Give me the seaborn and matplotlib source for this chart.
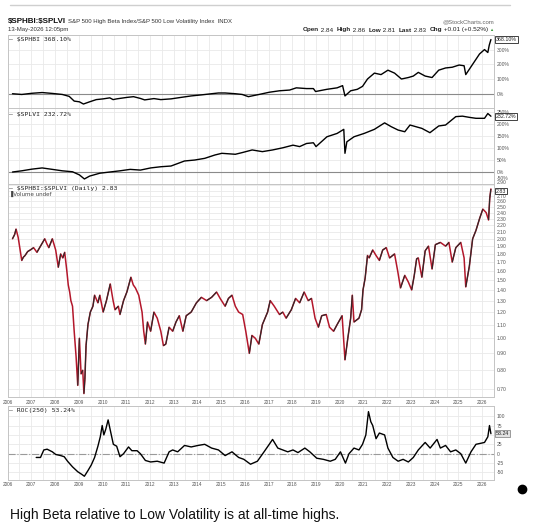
import numpy as np
import matplotlib
matplotlib.use('Agg')
import matplotlib.pyplot as plt
import seaborn as sns
from matplotlib.collections import LineCollection
from matplotlib.lines import Line2D
import matplotlib.transforms as mtransforms

sns.set_theme(style='white')
plt.rcParams['font.family'] = ['Liberation Sans', 'DejaVu Sans']

# ---- dados (anos decimais) ----
anos_hb = [2006.21, 2006.60, 2007.03, 2007.46, 2007.89, 2008.31, 2008.60, 2008.81, 2009.03, 2009.20,
           2009.46, 2009.74, 2010.03, 2010.31, 2010.45, 2010.60, 2011.03, 2011.31, 2011.60, 2011.78,
           2012.17, 2012.46, 2012.89, 2013.31, 2013.74, 2014.17, 2014.60, 2014.89, 2015.17, 2015.60,
           2015.89, 2016.15, 2016.60, 2017.03, 2017.46, 2017.89, 2018.17, 2018.60, 2018.89, 2018.98,
           2019.46, 2019.89, 2020.12, 2020.22, 2020.46, 2020.74, 2020.96, 2021.17, 2021.46, 2021.74,
           2022.03, 2022.31, 2022.60, 2022.89, 2023.10, 2023.31, 2023.60, 2023.89, 2024.17, 2024.46,
           2024.74, 2025.03, 2025.24, 2025.31, 2025.60, 2025.89, 2026.10, 2026.24, 2026.30, 2026.37]
sphbi = [0, -5, 3, 8, 2, -5, -18, -50, -55, -70,
         -55, -40, -35, -28, -40, -35, -25, -20, -32, -42,
         -33, -40, -35, -25, -15, -8, 0, 5, 5, 0,
         -5, -20, -5, 10, 20, 25, 40, 35, 35, 15,
         30, 40, 55, -15, 20, 30, 50, 100, 140, 130,
         160, 140, 100, 110, 120, 145, 120, 110, 160, 175,
         180, 195, 190, 130, 200, 270, 300, 280, 330, 368.10]

anos_lv = [2006.21, 2006.60, 2007.03, 2007.46, 2007.89, 2008.31, 2008.74, 2009.03, 2009.24, 2009.46,
           2009.89, 2010.31, 2010.74, 2011.17, 2011.60, 2012.03, 2012.46, 2012.89, 2013.46, 2013.89,
           2014.31, 2014.74, 2015.03, 2015.60, 2015.89, 2016.31, 2016.74, 2017.17, 2017.60, 2018.03,
           2018.31, 2018.60, 2018.89, 2019.00, 2019.46, 2019.89, 2020.17, 2020.22, 2020.30, 2020.60,
           2021.03, 2021.46, 2021.89, 2022.17, 2022.46, 2022.74, 2022.96, 2023.46, 2023.80, 2024.17,
           2024.46, 2024.89, 2025.17, 2025.46, 2025.74, 2026.10, 2026.24, 2026.37]
splvi = [0, 5, 12, 17, 11, 5, 1, -12, -29, -17,
         -5, 0, 5, 11, 8, 17, 22, 25, 46, 50,
         57, 71, 78, 74, 81, 92, 85, 92, 101, 112,
         106, 119, 122, 106, 147, 161, 178, 78, 126, 147,
         161, 178, 205, 189, 175, 168, 196, 182, 164, 192,
         196, 231, 233, 228, 224, 224, 244, 232.72]

anos_ratio = [2006.21, 2006.30, 2006.36, 2006.45, 2006.53, 2006.60, 2006.67, 2006.74, 2006.85, 2006.96,
              2007.10, 2007.24, 2007.39, 2007.57, 2007.66, 2007.74, 2007.89, 2008.03, 2008.14, 2008.24,
              2008.33, 2008.41, 2008.50, 2008.56, 2008.62, 2008.67, 2008.74, 2008.81, 2008.89, 2008.96,
              2009.03, 2009.10, 2009.17, 2009.22, 2009.26, 2009.31, 2009.39, 2009.49, 2009.60, 2009.67,
              2009.81, 2009.89, 2010.03, 2010.17, 2010.33, 2010.45, 2010.53, 2010.67, 2010.74, 2010.89,
              2011.03, 2011.20, 2011.30, 2011.39, 2011.53, 2011.67, 2011.74, 2011.81, 2011.90, 2012.03,
              2012.17, 2012.31, 2012.46, 2012.57, 2012.67, 2012.81, 2012.96, 2013.10, 2013.24, 2013.39,
              2013.53, 2013.74, 2013.96, 2014.17, 2014.39, 2014.60, 2014.81, 2014.96, 2015.17, 2015.31,
              2015.46, 2015.60, 2015.74, 2015.91, 2016.04, 2016.19, 2016.30, 2016.44, 2016.59, 2016.74,
              2016.96, 2017.07, 2017.24, 2017.46, 2017.60, 2017.74, 2017.96, 2018.14, 2018.31, 2018.50,
              2018.67, 2018.81, 2018.96, 2019.10, 2019.24, 2019.43, 2019.57, 2019.74, 2019.89, 2020.10,
              2020.22, 2020.34, 2020.46, 2020.53, 2020.60, 2020.81, 2020.92, 2020.98, 2021.07, 2021.17,
              2021.24, 2021.39, 2021.53, 2021.67, 2021.81, 2021.96, 2022.10, 2022.31, 2022.44, 2022.56,
              2022.74, 2022.89, 2023.03, 2023.14, 2023.24, 2023.31, 2023.46, 2023.60, 2023.74, 2023.89,
              2024.03, 2024.24, 2024.46, 2024.60, 2024.74, 2024.89, 2025.10, 2025.24, 2025.31, 2025.46,
              2025.60, 2025.74, 2025.89, 2026.03, 2026.17, 2026.27, 2026.32, 2026.37]
ratio = [2.00, 2.06, 2.14, 2.02, 1.85, 1.72, 1.76, 1.78, 1.83, 1.85,
         1.88, 1.82, 1.90, 2.00, 1.93, 1.88, 2.00, 1.85, 1.64, 1.80,
         1.75, 1.82, 1.60, 1.45, 1.38, 1.30, 1.25, 1.05, 0.88, 0.72,
         1.00, 0.78, 0.80, 0.68, 0.75, 0.95, 1.10, 1.20, 1.25, 1.35,
         1.28, 1.35, 1.20, 1.30, 1.46, 1.30, 1.22, 1.25, 1.18, 1.30,
         1.38, 1.53, 1.45, 1.42, 1.35, 1.20, 1.05, 0.96, 1.12, 1.05,
         1.20, 1.15, 1.05, 0.95, 0.96, 1.08, 1.05, 1.12, 1.17, 1.05,
         1.17, 1.20, 1.28, 1.33, 1.30, 1.33, 1.38, 1.32, 1.25, 1.32,
         1.35, 1.25, 1.20, 1.18, 1.05, 0.90, 1.02, 1.00, 0.96, 1.10,
         1.20, 1.30, 1.25, 1.18, 1.20, 1.15, 1.22, 1.32, 1.28, 1.38,
         1.30, 1.32, 1.15, 1.08, 1.17, 1.18, 1.08, 1.05, 1.10, 1.17,
         0.86, 1.00, 1.15, 1.35, 1.12, 1.15, 1.22, 1.40, 1.52, 1.78,
         1.75, 1.85, 1.78, 1.72, 1.85, 1.88, 1.75, 1.80, 1.60, 1.42,
         1.55, 1.48, 1.40, 1.55, 1.74, 1.75, 1.53, 1.84, 1.90, 1.62,
         1.92, 1.95, 1.90, 1.95, 1.70, 1.88, 1.95, 1.75, 1.43, 1.65,
         2.00, 2.12, 2.30, 2.46, 2.40, 2.28, 2.65, 2.83]

anos_roc = [2007.21, 2007.39, 2007.53, 2007.67, 2007.89, 2008.03, 2008.24, 2008.39, 2008.53, 2008.74,
            2008.96, 2009.13, 2009.24, 2009.39, 2009.53, 2009.67, 2009.81, 2009.91, 2009.99, 2010.06,
            2010.14, 2010.24, 2010.34, 2010.46, 2010.60, 2010.74, 2010.89, 2011.10, 2011.24, 2011.46,
            2011.60, 2011.81, 2012.03, 2012.31, 2012.60, 2012.81, 2012.96, 2013.17, 2013.46, 2013.74,
            2014.03, 2014.31, 2014.60, 2014.89, 2015.17, 2015.46, 2015.74, 2015.96, 2016.24, 2016.53,
            2016.81, 2017.03, 2017.17, 2017.39, 2017.60, 2017.81, 2018.03, 2018.24, 2018.53, 2018.74,
            2019.03, 2019.31, 2019.60, 2019.81, 2020.03, 2020.24, 2020.39, 2020.60, 2020.81, 2020.96,
            2021.10, 2021.21, 2021.31, 2021.39, 2021.53, 2021.67, 2021.89, 2022.03, 2022.24, 2022.46,
            2022.67, 2022.89, 2023.10, 2023.31, 2023.60, 2023.81, 2024.10, 2024.24, 2024.46, 2024.67,
            2024.89, 2025.10, 2025.31, 2025.53, 2025.74, 2025.96, 2026.10, 2026.24, 2026.31, 2026.37]
roc = [-10, -10, 10, 12, 5, -2, -5, -8, -20, -35,
       -48, -55, -60, -45, -30, -10, 20, 45, 75, 50,
       65, 90, 60, 25, 20, -8, 0, 18, 8, 8,
       0, -18, -22, -20, -25, 5, 10, 5, 22, 18,
       22, 25, 15, 10, -5, 5, -10, -15, -28, -20,
       5, 25, 38, 15, 10, 5, 10, 3, 15, 5,
       -12, -15, -20, -15, 5, -25, 0, 15, 10, 25,
       50, 112, 85, 75, 40, 55, 50, 15, -10, -20,
       -15, -22, -10, 10, 30, 15, 38, 15, 22, 5,
       10, 0, -25, 5, 25, 28, 30, 45, 75, 53.24]

anos_eixo = list(range(2006, 2027))

# ---- figura ----
W, H = 533, 530
fig = plt.figure(figsize=(W / 100, H / 100), dpi=100)
fig.patch.set_facecolor('white')


def caixa(y_top, y_bot):
    # converte pixels da imagem em coordenadas da figura
    return [7.5 / W, 1 - y_bot / H, (494 - 7.5) / W, (y_bot - y_top) / H]


ax1 = fig.add_axes(caixa(35, 108))
ax2 = fig.add_axes(caixa(108, 184))
ax3 = fig.add_axes(caixa(184, 397))
ax4 = fig.add_axes(caixa(406, 480))

XMIN, XMAX = 2006.06, 2026.40
grade = '#e9e9e9'
borda = '#c4c4c4'
cor_tick = '#555555'

for ax in (ax1, ax2, ax3, ax4):
    ax.set_xlim(XMIN, XMAX)
    ax.set_xticks(anos_eixo)
    ax.set_xticks([a + 0.5 for a in anos_eixo], minor=True)
    ax.xaxis.grid(True, which='both', color=grade, lw=0.6)
    ax.yaxis.grid(True, color=grade, lw=0.6)
    ax.tick_params(axis='x', which='both', length=0, labelbottom=False)
    ax.yaxis.tick_right()
    ax.tick_params(axis='y', which='both', length=0, labelsize=3.6, labelcolor=cor_tick, pad=2)
    for s in ax.spines.values():
        s.set_color(borda)
        s.set_linewidth(0.7)
    ax.set_xlabel('')
    ax.set_ylabel('')

# painel 1 - SPHBI
sns.lineplot(x=anos_hb, y=sphbi, ax=ax1, color='black', lw=1.0)
ax1.axhline(0, color='#8a8a8a', lw=0.8, zorder=1)
ax1.set_ylim(-97, 399)
ax1.set_yticks([0, 100, 200, 300])
ax1.set_yticklabels(['0%', '100%', '200%', '300%'])

# painel 2 - SPLVI (o rotulo -50% fica um pouco acima da borda)
sns.lineplot(x=anos_lv, y=splvi, ax=ax2, color='black', lw=1.0)
ax2.axhline(0, color='#8a8a8a', lw=0.8, zorder=1)
ax2.set_ylim(-50, 267)
ax2.set_yticks([-50, 0, 50, 100, 150, 200, 250])
ax2.set_yticklabels(['', '0%', '50%', '100%', '150%', '200%', '250%'])
tr_m50 = mtransforms.offset_copy(ax2.get_yaxis_transform(), fig=fig, x=2.8, y=5.5, units='dots')
ax2.text(1.0, -50, '-50%', transform=tr_m50, ha='left', va='center', fontsize=3.6,
         color=cor_tick, clip_on=False)

# painel 3 - razao, escala log, vermelho quando cai e escuro quando sobe
ax3.set_yscale('log')
sns.lineplot(x=anos_ratio, y=ratio, ax=ax3, color='#b3172b', lw=1.1)
pts = np.column_stack([anos_ratio, ratio])
segs = np.stack([pts[:-1], pts[1:]], axis=1)
sobe = np.diff(ratio) > 0
ax3.add_collection(LineCollection(segs[sobe], colors='#2a2a2a', linewidths=0.8, zorder=3))
ax3.set_ylim(0.664, 2.93)
ticks3 = [0.7, 0.8, 0.9, 1.0, 1.1, 1.2, 1.3, 1.4, 1.5, 1.6, 1.7, 1.8, 1.9, 2.0,
          2.1, 2.2, 2.3, 2.4, 2.5, 2.6, 2.7, 2.9]
ax3.yaxis.set_minor_locator(matplotlib.ticker.NullLocator())
ax3.set_yticks(ticks3)
ax3.set_yticklabels(['%.2f' % t for t in ticks3])
ax3.get_yticklabels()[-1].set_verticalalignment('bottom')
ax3.yaxis.grid(True, color=grade, lw=0.6)
ax3.axhline(2.8, color=grade, lw=0.6, zorder=0)

# painel 4 - ROC(250)
sns.lineplot(x=anos_roc, y=roc, ax=ax4, color='black', lw=1.0)
ax4.axhline(0, color='#9a9a9a', lw=0.8, ls='-.', zorder=1)
ax4.set_ylim(-70, 127)
ax4.set_yticks([-50, -25, 0, 25, 75, 100])
ax4.set_yticklabels(['-50', '-25', '0', '25', '75', '100'])
ax4.axhline(50, color=grade, lw=0.6, zorder=0)

# rotulos dos anos abaixo dos paineis 3 e 4
for ax, dy in ((ax3, -5), (ax4, -5)):
    tr = mtransforms.offset_copy(ax.get_xaxis_transform(), fig=fig, y=dy, units='dots')
    for a in anos_eixo:
        ax.text(a, 0, str(a), transform=tr, ha='center', va='center', fontsize=3.4,
                color=cor_tick, clip_on=False)

# legendas no canto de cada painel
mono = {'family': 'DejaVu Sans Mono', 'fontsize': 4.6, 'color': '#222222'}
ax1.text(0.004, 0.94, '\u2014 \\$SPHBI 368.10%', transform=ax1.transAxes, va='center', **mono)
ax2.text(0.004, 0.92, '\u2014 \\$SPLVI 232.72%', transform=ax2.transAxes, va='center', **mono)
ax3.text(0.004, 0.978, '\u2014 \\$SPHBI:\\$SPLVI (Daily) 2.83', transform=ax3.transAxes, va='center', **mono)
ax3.text(0.004, 0.955, '\u2590Volume undef', transform=ax3.transAxes, va='center',
         family='DejaVu Sans', fontsize=4.0, color='#444444')
ax4.text(0.004, 0.94, '\u2014 ROC(250) 53.24%', transform=ax4.transAxes, va='center', **mono)

# caixas com o ultimo valor
def etiqueta(ax, y, txt, fc='white', ec='#222222'):
    ax.text(1.004, y, txt, transform=ax.get_yaxis_transform(), ha='left', va='center',
            fontsize=3.8, color='#222222', clip_on=False, zorder=5,
            bbox=dict(boxstyle='square,pad=0.15', fc=fc, ec=ec, lw=0.6))

etiqueta(ax1, sphbi[-1], '368.10%')
etiqueta(ax2, splvi[-1], '232.72%')
etiqueta(ax3, 2.79, '2.83')
etiqueta(ax4, roc[-1], '53.24', fc='#e2e2e2', ec='#8c8c8c')

# cabecalho
fig.add_artist(Line2D([10 / W, 510 / W], [1 - 5 / H, 1 - 5 / H], color='#cfcfcf', lw=1.0))
t1 = fig.text(8 / W, 1 - 21.5 / H, '\\$SPHBI:\\$SPLVI', fontsize=5.8, fontweight='bold',
              color='#111111', va='center')
fig.canvas.draw()
r = fig.canvas.get_renderer()
x_fim = t1.get_window_extent(r).x1
fig.text((x_fim + 2) / W, 1 - 21.5 / H,
         'S&P 500 High Beta Index/S&P 500 Low Volatility Index  INDX',
         fontsize=4.3, color='#333333', va='center')
fig.text(8 / W, 1 - 29 / H, '13-May-2026 12:05pm', fontsize=4.3, color='#333333', va='center')
fig.text(494 / W, 1 - 22 / H, '@StockCharts.com', fontsize=4.3, color='#666666',
         va='center', ha='right')

# linha Open/High/Low/Last/Chg com partes em negrito
partes = [('Open', 'bold'), (' 2.84  ', 'normal'), ('High', 'bold'), (' 2.86  ', 'normal'),
          ('Low', 'bold'), (' 2.81  ', 'normal'), ('Last', 'bold'), (' 2.83  ', 'normal'),
          ('Chg', 'bold'), (' +0.01 (+0.52%)', 'normal')]
objs = []
x = 0
for txt, peso in partes:
    o = fig.text(x / W, 1 - 30 / H, txt, fontsize=4.6, fontweight=peso, color='#222222', va='center')
    fig.canvas.draw()
    x = o.get_window_extent(r).x1
    objs.append(o)
desloc = 488 - x
for o in objs:
    px, py = o.get_position()
    o.set_position((px + desloc / W, py))
fig.text(489.5 / W, 1 - 30 / H, '\u25b2', fontsize=3.0, color='#3a9a3a', va='center')

# ponto preto e legenda de baixo
fig.add_artist(Line2D([522 / W], [1 - 489 / H], marker='o', ms=6, color='black', lw=0))
fig.text(10 / W, 1 - 515 / H, 'High Beta relative to Low Volatility is at all-time highs.',
         fontsize=10.0, color='#111111', va='center')

fig.savefig('out.png', dpi=100, facecolor='white')
